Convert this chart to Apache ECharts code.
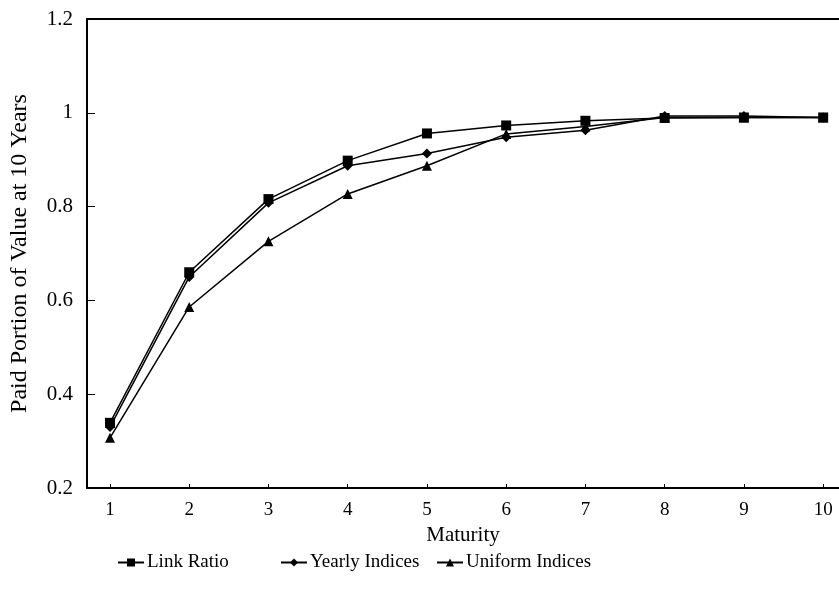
<!DOCTYPE html>
<html>
<head>
<meta charset="utf-8">
<script src="https://cdn.jsdelivr.net/npm/echarts@6/dist/echarts.min.js"></script>
<style>
  html, body { margin: 0; padding: 0; background: #fff; }
  #chart { width: 839px; height: 594px; }
</style>
</head>
<body>
<div id="chart"></div>
<script>
// maturity (years) and the three paid-portion curves
const maturity = [1, 2, 3, 4, 5, 6, 7, 8, 9, 10];
const linkRatio = [0.339, 0.66, 0.816, 0.898, 0.956, 0.973, 0.983, 0.989, 0.99, 0.99];
const yearlyIndices = [0.33, 0.65, 0.808, 0.887, 0.913, 0.948, 0.963, 0.993, 0.993, 0.99];
const uniformIndices = [0.307, 0.586, 0.726, 0.827, 0.887, 0.955, 0.971, 0.99, 0.99, 0.99];
const yTicks = [0.2, 0.4, 0.6, 0.8, 1, 1.2];

const font = 'Liberation Serif';

function pairs(vals) {
    return maturity.map((m, i) => [m, vals[i]]);
}

const chart = echarts.init(document.getElementById('chart'));

function makeSeries(name, symbol, size, vals) {
    return {
        name: name,
        type: 'line',
        data: pairs(vals),
        symbol: symbol,
        symbolSize: size,
        showAllSymbol: true,
        lineStyle: { color: '#000', width: 1.5 },
        itemStyle: { color: '#000' },
        emphasis: { disabled: true },
        animation: false
    };
}

const option = {
    backgroundColor: '#fff',
    grid: { left: 86, right: 0, top: 19, bottom: 106 },
    legend: [
        { left: 112, data: ['Link Ratio'] },
        { left: 275, data: ['Yearly Indices'] },
        { left: 431, data: ['Uniform Indices'] }
    ].map(l => Object.assign({
        top: 548,
        itemWidth: 26,
        itemHeight: 10,
        itemGap: 0,
        textStyle: { fontFamily: font, fontSize: 19, color: '#000', padding: [0, 0, 0, -2] }
    }, l)),
    xAxis: [{
        type: 'value',
        min: 0.71,
        max: 10.2,
        name: 'Maturity',
        nameLocation: 'middle',
        nameGap: 34,
        nameTextStyle: { fontFamily: font, fontSize: 21, color: '#000' },
        axisLine: { lineStyle: { color: '#000', width: 2 } },
        axisTick: { inside: true, length: 4, customValues: maturity, lineStyle: { color: '#000' } },
        axisLabel: { customValues: maturity, fontFamily: font, fontSize: 19, color: '#000', margin: 13 },
        splitLine: { show: false }
    }, {
        type: 'value',
        position: 'top',
        min: 0.71,
        max: 10.2,
        axisLine: { show: true, lineStyle: { color: '#000', width: 2 } },
        axisTick: { show: false },
        axisLabel: { show: false },
        splitLine: { show: false }
    }],
    yAxis: {
        type: 'value',
        min: 0.2,
        max: 1.2,
        interval: 0.2,
        name: 'Paid Portion of Value at 10 Years',
        nameLocation: 'middle',
        nameGap: 55,
        nameTextStyle: { fontFamily: font, fontSize: 24, color: '#000' },
        axisLine: { show: true, lineStyle: { color: '#000', width: 2 } },
        axisTick: { show: true, inside: true, length: 8, lineStyle: { color: '#000' } },
        axisLabel: {
            fontFamily: font, fontSize: 21, color: '#000', margin: 14,
            customValues: yTicks,
            formatter: v => String(Math.round(v * 10) / 10)
        },
        splitLine: { show: false }
    },
    series: [
        makeSeries('Link Ratio', 'rect', 10, linkRatio),
        makeSeries('Yearly Indices', 'diamond', 10, yearlyIndices),
        makeSeries('Uniform Indices', 'triangle', 10, uniformIndices)
    ]
};

chart.setOption(option);
</script>
</body>
</html>
